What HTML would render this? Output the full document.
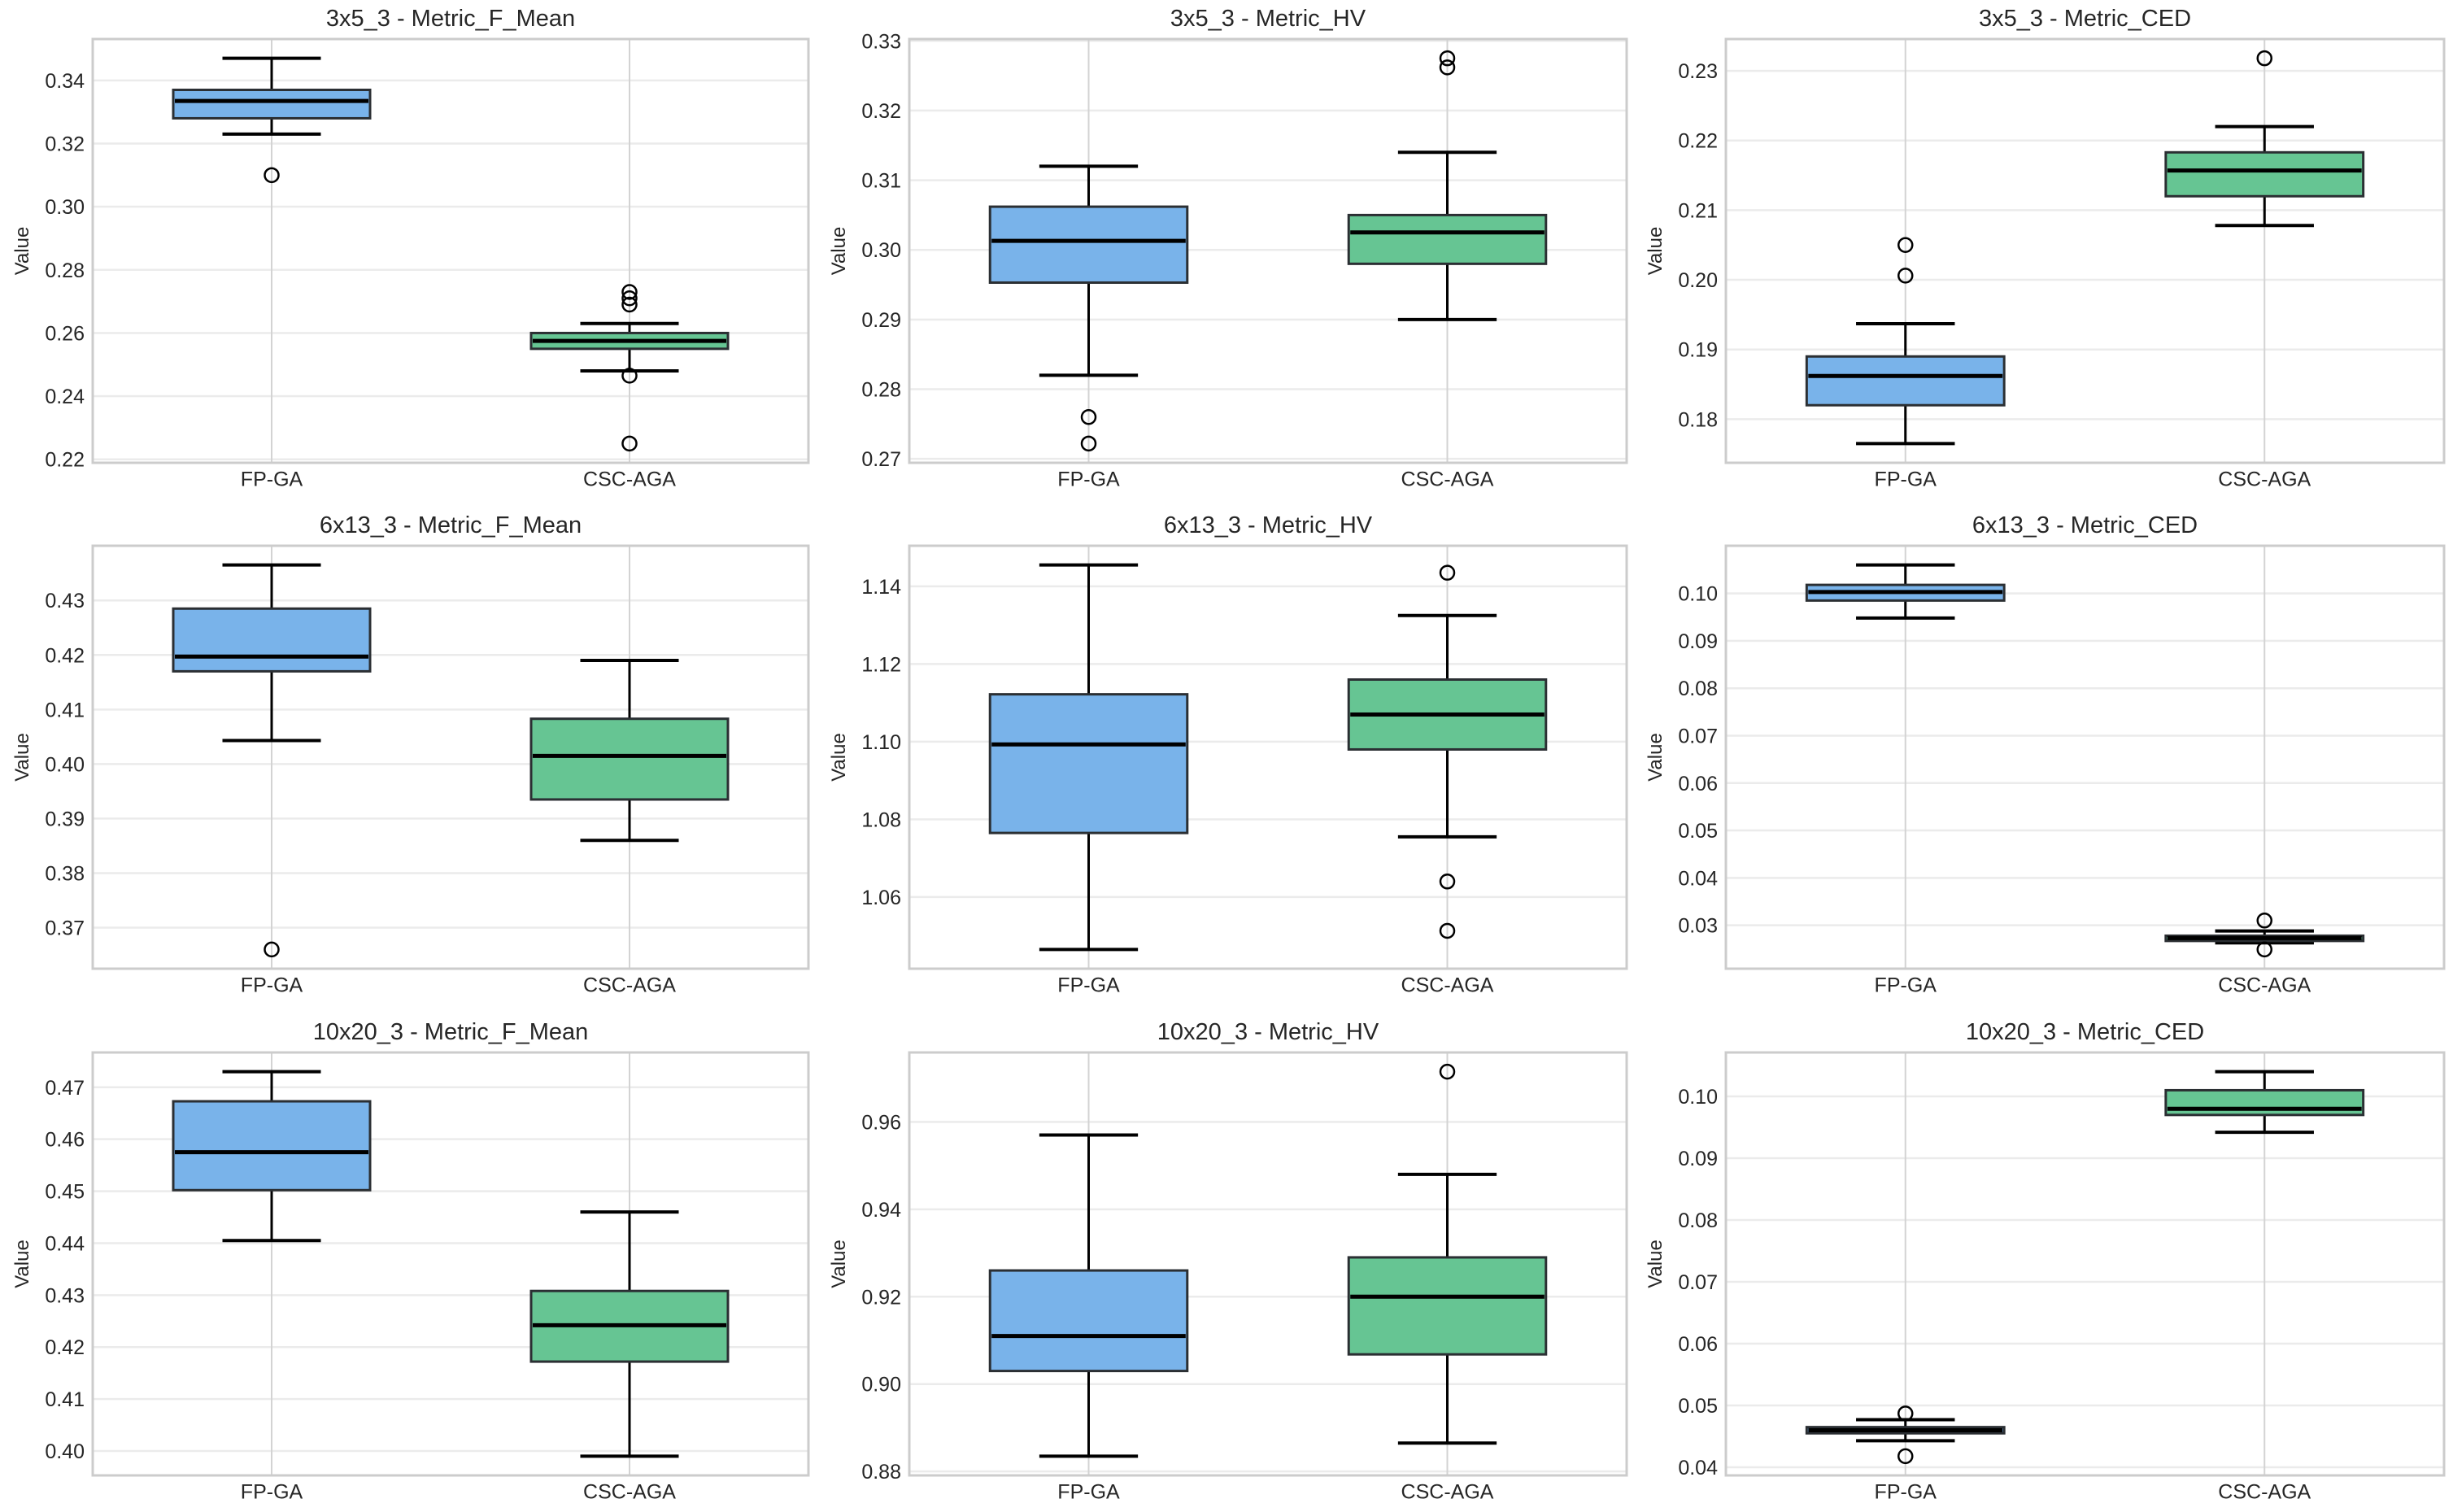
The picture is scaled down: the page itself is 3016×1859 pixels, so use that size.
<!DOCTYPE html>
<html><head><meta charset="utf-8"><style>
html,body{margin:0;padding:0;background:#fff}
svg{display:block;font-family:"Liberation Sans",sans-serif}
</style></head><body>
<svg id="fig" width="3016" height="1859" viewBox="0 0 3016 1859" xmlns="http://www.w3.org/2000/svg"></svg>
<script>
const categories = ["FP-GA", "CSC-AGA"];
const titles = ["3x5_3 - Metric_F_Mean","3x5_3 - Metric_HV","3x5_3 - Metric_CED",
"6x13_3 - Metric_F_Mean","6x13_3 - Metric_HV","6x13_3 - Metric_CED",
"10x20_3 - Metric_F_Mean","10x20_3 - Metric_HV","10x20_3 - Metric_CED"];
// [whislo, q1, med, q3, whishi] per panel per category
const fpStats = [
[0.323,0.328,0.3335,0.337,0.347],
[0.282,0.2953,0.3013,0.3062,0.312],
[0.1765,0.182,0.1862,0.189,0.1937],
[0.4043,0.417,0.4197,0.4285,0.4365],
[1.0465,1.0765,1.0993,1.1122,1.1455],
[0.0948,0.0985,0.1003,0.1018,0.106],
[0.4405,0.4502,0.4575,0.4673,0.473],
[0.8835,0.903,0.911,0.926,0.957],
[0.0443,0.0455,0.046,0.0465,0.0477]];
const cscStats = [
[0.248,0.255,0.2575,0.260,0.263],
[0.290,0.298,0.3025,0.305,0.314],
[0.2078,0.212,0.2157,0.2183,0.222],
[0.386,0.3935,0.4015,0.4083,0.419],
[1.0755,1.098,1.107,1.116,1.1325],
[0.0263,0.0267,0.0273,0.0278,0.0288],
[0.399,0.4172,0.4242,0.4308,0.446],
[0.8865,0.9068,0.920,0.929,0.948],
[0.0942,0.097,0.098,0.101,0.104]];
const fpFliers = [[0.310],[0.276,0.2722],[0.2006,0.205],[0.366],[],[],[],[],[0.0487,0.0418]];
const cscFliers = [[0.273,0.271,0.269,0.2465,0.225],[0.3262,0.3275],[0.2318],[],[1.1435,1.064,1.0513],[0.031,0.0249],[],[0.9715],[]];
const tickLabels = [
["0.22","0.24","0.26","0.28","0.30","0.32","0.34"],
["0.27","0.28","0.29","0.30","0.31","0.32","0.33"],
["0.18","0.19","0.20","0.21","0.22","0.23"],
["0.37","0.38","0.39","0.40","0.41","0.42","0.43"],
["1.06","1.08","1.10","1.12","1.14"],
["0.03","0.04","0.05","0.06","0.07","0.08","0.09","0.10"],
["0.40","0.41","0.42","0.43","0.44","0.45","0.46","0.47"],
["0.88","0.90","0.92","0.94","0.96"],
["0.04","0.05","0.06","0.07","0.08","0.09","0.10"]];

const NS="http://www.w3.org/2000/svg";
const svg=document.getElementById('fig');
const lefts=[114,1118,2122], rights=[994,2000,3005], tops=[48,671,1294], bottoms=[569,1191,1814];
const fills=["#79b3ea","#66c593"];
function mk(tag,attrs,parent){const e=document.createElementNS(NS,tag);for(const k in attrs)e.setAttribute(k,attrs[k]);(parent||svg).appendChild(e);return e;}

for(let p=0;p<9;p++){
  const L=lefts[p%3],R=rights[p%3],T=tops[Math.floor(p/3)],B=bottoms[Math.floor(p/3)];
  const g=mk('g',{});
  
  
  const allv=[...fpStats[p],...cscStats[p],...fpFliers[p],...cscFliers[p]];
  let mn=Math.min(...allv),mx=Math.max(...allv),m=(mx-mn)*0.05;mn-=m;mx+=m;
  const y=v=>B-(v-mn)/(mx-mn)*(B-T);
  const x=i=>L+(i+1-0.5)/2*(R-L);
  const ppu=(R-L)/2;
  tickLabels[p].forEach(t=>{const v=parseFloat(t);const yy=y(v);
    const gl=mk('line',{x1:L,x2:R,y1:yy,y2:yy,stroke:'#ebebeb','stroke-width':2.5},g);
    
    const tl=mk('text',{x:L-10,y:yy+9,'text-anchor':'end','font-size':25,fill:'#262626'},g);
    tl.textContent=t;
  });
  categories.forEach((c,i)=>{
    const vl=mk('line',{x1:x(i),x2:x(i),y1:T,y2:B,stroke:'#d3d3d3','stroke-width':2},g);
    
    const xl=mk('text',{x:x(i),y:B+11,'text-anchor':'middle','font-size':25,fill:'#262626','dominant-baseline':'hanging'},g);
    xl.textContent=c;
  });
  const fr=mk('rect',{x:L,y:T,width:R-L,height:B-T,fill:'none',stroke:'#cccccc','stroke-width':3},g);
  
  const ti=mk('text',{x:(L+R)/2,y:T-16,'text-anchor':'middle','font-size':29,fill:'#262626'},g);
  ti.textContent=titles[p];
  const yl=mk('text',{x:0,y:0,'text-anchor':'middle','font-size':24,fill:'#262626',transform:`translate(${L-79},${(T+B)/2}) rotate(-90)`},g);
  yl.textContent='Value';
  [fpStats[p],cscStats[p]].forEach((s,i)=>{
    const cx=x(i),bw=0.55*ppu,cw=0.275*ppu;
    const w1=mk('line',{x1:cx,x2:cx,y1:y(s[0]),y2:y(s[1]),stroke:'#000','stroke-width':3},g);
    
    const w2=mk('line',{x1:cx,x2:cx,y1:y(s[3]),y2:y(s[4]),stroke:'#000','stroke-width':3},g);
    
    [s[0],s[4]].forEach(v=>{const c=mk('line',{x1:cx-cw/2,x2:cx+cw/2,y1:y(v),y2:y(v),stroke:'#000','stroke-width':4},g);
      });
    const bx=mk('rect',{x:cx-bw/2,y:y(s[3]),width:bw,height:Math.max(0.5,y(s[1])-y(s[3])),fill:fills[i],stroke:'#2b2f33','stroke-width':3},g);
    
    const md=mk('line',{x1:cx-bw/2+2,x2:cx+bw/2-2,y1:y(s[2]),y2:y(s[2]),stroke:'#000','stroke-width':5},g);
    
  });
  [fpFliers[p],cscFliers[p]].forEach((f,i)=>f.forEach(v=>{
    const c=mk('circle',{cx:x(i),cy:y(v),r:8.5,fill:'none',stroke:'#000','stroke-width':2.5},g);
    
  }));
}
</script>
</body></html>
